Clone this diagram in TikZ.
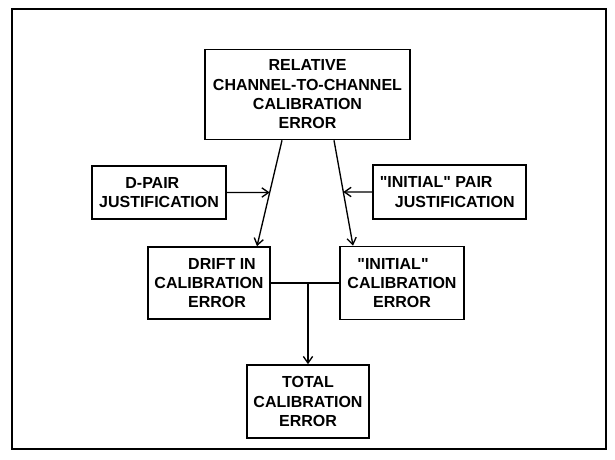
\documentclass[tikz,border=0pt]{standalone}
\usepackage{fontspec}
\setmainfont{Liberation Sans}
\usetikzlibrary{arrows.meta,calc}
\begin{document}
\begin{tikzpicture}[x=0.75pt,y=-0.75pt,
  box/.style={draw,line width=1.2pt,inner sep=0pt,align=center,
    font=\fontsize{12}{14.5}\selectfont\bfseries},
  conn/.style={line width=1pt},
  arr/.style={conn,-{Straight Barb[length=5pt,width=7pt]}}]
\useasboundingbox (0,0) rectangle (615,460);
% frame
\draw[line width=1pt] (12,9) rectangle (606,449);
% boxes
\node[box,minimum width=153.75pt,minimum height=67.5pt] (top) at (307.5,94.5)
  {RELATIVE\\CHANNEL-TO-CHANNEL\\CALIBRATION\\ERROR};
\node[box,minimum width=100.5pt,minimum height=39.75pt] (dpair) at (159,192.5)
  {D-PAIR\hspace*{10pt}\\JUSTIFICATION};
\node[box,minimum width=114.75pt,minimum height=40.5pt] (ipair) at (449.5,192)
  {\textquotedbl INITIAL\textquotedbl{} PAIR\hspace*{20pt}\\\hspace*{8pt}JUSTIFICATION};
\node[box,minimum width=91.5pt,minimum height=54pt] (drift) at (209,283)
  {\hspace*{19.5pt}DRIFT IN\\CALIBRATION\\\hspace*{12pt}ERROR};
\node[box,minimum width=93pt,minimum height=54.75pt] (icerr) at (402,283)
  {\textquotedbl INITIAL\textquotedbl\hspace*{13.5pt}\\CALIBRATION\\ERROR};
\node[box,minimum width=91.5pt,minimum height=54.75pt] (total) at (308,401.5)
  {TOTAL\\CALIBRATION\\ERROR};
% slanted connectors
\coordinate (tl) at ($(top.south)+(-25.5,0)$);
\coordinate (tr) at ($(top.south)+(26.5,0)$);
\coordinate (dl) at ($(drift.north)+(48,0)$);
\coordinate (dr) at ($(icerr.north)+(-49,0)$);
\draw[arr] (tl) -- (dl);
\draw[arr] (tr) -- (dr);
% side inputs
\coordinate (dfar) at ($(dpair.east)+(150,0)$);
\coordinate (ifar) at ($(ipair.west)+(-150,0)$);
\coordinate (dhit) at (intersection of tl--dl and dpair.east--dfar);
\coordinate (ihit) at (intersection of tr--dr and ipair.west--ifar);
\draw[arr] (dpair.east) -- (dhit);
\draw[arr] (ipair.west) -- (ihit);
% junction to total
\draw[conn] (drift.east) -- (icerr.west);
\coordinate (j) at (total.north |- drift.east);
\draw[arr] (j) -- (total.north);
\end{tikzpicture}
\end{document}
